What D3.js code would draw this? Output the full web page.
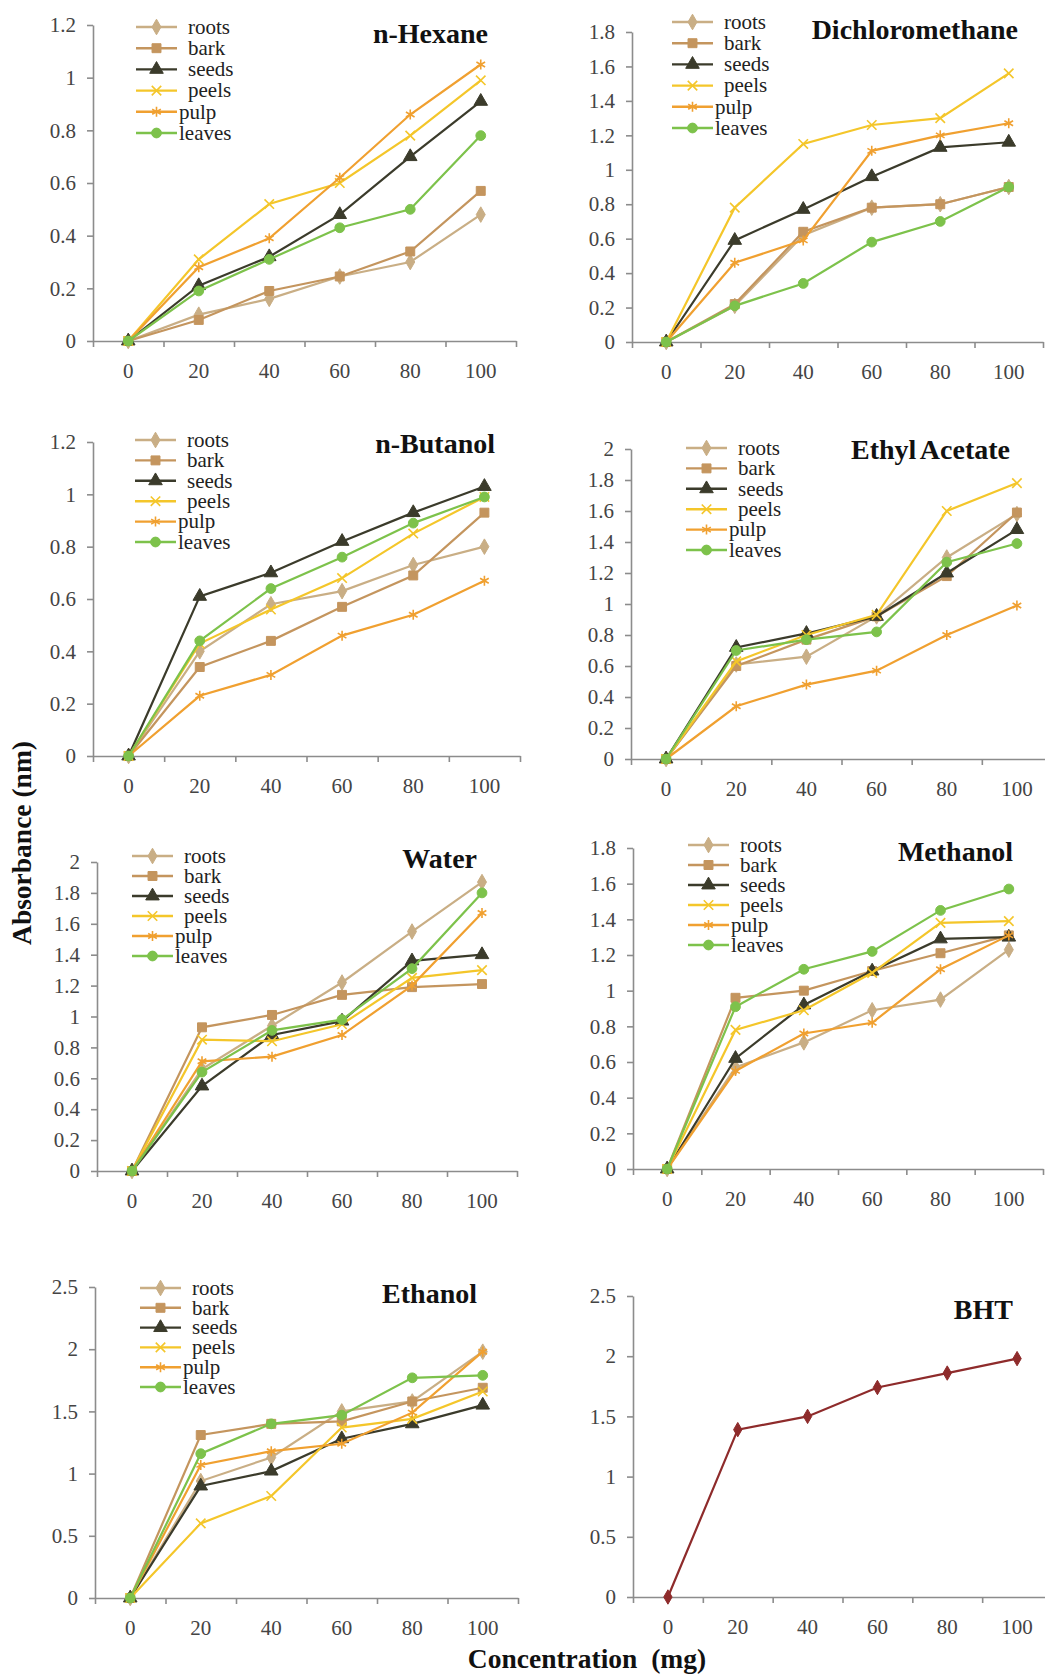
<!DOCTYPE html>
<html>
<head>
<meta charset="utf-8">
<script src="https://cdn.jsdelivr.net/npm/d3@7"></script>
<style>
  body { margin: 0; background: #fff; }
  svg { display: block; }
</style>
</head>
<body>
<svg id="chart" width="1045" height="1674"></svg>
<script>
// categories and series names
const concentrations = ['0', '20', '40', '60', '80', '100'];
const parts = ['roots', 'bark', 'seeds', 'peels', 'pulp', 'leaves'];

// one row per part, in the order of `parts`
const hexane = [
  [0, 0.10, 0.16, 0.245, 0.30, 0.48],
  [0, 0.08, 0.19, 0.245, 0.34, 0.57],
  [0, 0.21, 0.32, 0.48, 0.70, 0.91],
  [0, 0.31, 0.52, 0.60, 0.78, 0.99],
  [0, 0.28, 0.39, 0.62, 0.86, 1.05],
  [0, 0.19, 0.31, 0.43, 0.50, 0.78],
];
const dichloromethane = [
  [0, 0.21, 0.62, 0.78, 0.80, 0.90],
  [0, 0.22, 0.64, 0.78, 0.80, 0.90],
  [0, 0.59, 0.77, 0.96, 1.13, 1.16],
  [0, 0.78, 1.15, 1.26, 1.30, 1.56],
  [0, 0.46, 0.59, 1.11, 1.20, 1.27],
  [0, 0.21, 0.34, 0.58, 0.70, 0.90],
];
const butanol = [
  [0, 0.40, 0.58, 0.63, 0.73, 0.80],
  [0, 0.34, 0.44, 0.57, 0.69, 0.93],
  [0, 0.61, 0.70, 0.82, 0.93, 1.03],
  [0, 0.43, 0.56, 0.68, 0.85, 0.99],
  [0, 0.23, 0.31, 0.46, 0.54, 0.67],
  [0, 0.44, 0.64, 0.76, 0.89, 0.99],
];
const ethylAcetate = [
  [0, 0.61, 0.66, 0.92, 1.30, 1.58],
  [0, 0.60, 0.77, 0.92, 1.18, 1.59],
  [0, 0.72, 0.81, 0.92, 1.20, 1.48],
  [0, 0.63, 0.80, 0.93, 1.60, 1.78],
  [0, 0.34, 0.48, 0.57, 0.80, 0.99],
  [0, 0.70, 0.77, 0.82, 1.27, 1.39],
];
const water = [
  [0, 0.66, 0.94, 1.22, 1.55, 1.87],
  [0, 0.93, 1.01, 1.14, 1.19, 1.21],
  [0, 0.55, 0.88, 0.97, 1.36, 1.40],
  [0, 0.85, 0.84, 0.95, 1.25, 1.30],
  [0, 0.71, 0.74, 0.88, 1.20, 1.67],
  [0, 0.64, 0.91, 0.98, 1.31, 1.80],
];
const methanol = [
  [0, 0.57, 0.71, 0.89, 0.95, 1.23],
  [0, 0.96, 1.00, 1.11, 1.21, 1.31],
  [0, 0.62, 0.92, 1.11, 1.29, 1.30],
  [0, 0.78, 0.89, 1.10, 1.38, 1.39],
  [0, 0.55, 0.76, 0.82, 1.12, 1.31],
  [0, 0.91, 1.12, 1.22, 1.45, 1.57],
];
const ethanol = [
  [0, 0.94, 1.13, 1.50, 1.58, 1.98],
  [0, 1.31, 1.40, 1.42, 1.58, 1.69],
  [0, 0.90, 1.02, 1.28, 1.40, 1.55],
  [0, 0.60, 0.82, 1.37, 1.44, 1.66],
  [0, 1.07, 1.18, 1.24, 1.49, 1.98],
  [0, 1.16, 1.40, 1.47, 1.77, 1.79],
];
const bht = [[0, 1.39, 1.50, 1.74, 1.86, 1.98]];

const partColors = ['#c9ae85', '#c4955e', '#3b3b2b', '#f4c62a', '#f0a030', '#7dc24b'];
const partSymbols = [d3.symbolDiamond, d3.symbolSquare, d3.symbolTriangle, d3.symbolX, d3.symbolAsterisk, d3.symbolCircle];
const partSizes = [70, 80, 80, 60, 70, 75];
const strokeSymbols = [false, false, false, true, true, false];
const serif = "'Liberation Serif', 'Times New Roman', serif";

const panels = [
  { title: 'n-Hexane', rows: hexane, max: 1.2, step: 0.2, x0: 93, x1: 516, y0: 341, y1: 25, titleX: 488, titleY: 43, legendX: 136, legendY: 27, legendGap: 21.2 },
  { title: 'Dichloromethane', rows: dichloromethane, max: 1.8, step: 0.2, x0: 632, x1: 1043, y0: 342, y1: 32, titleX: 1018, titleY: 39, legendX: 672, legendY: 22, legendGap: 21.2 },
  { title: 'n-Butanol', rows: butanol, max: 1.2, step: 0.2, x0: 93, x1: 520, y0: 756, y1: 442, titleX: 495, titleY: 453, legendX: 135, legendY: 440, legendGap: 20.4 },
  { title: 'Ethyl Acetate', rows: ethylAcetate, max: 2, step: 0.2, x0: 631, x1: 1052, y0: 759, y1: 449, titleX: 1010, titleY: 459, legendX: 686, legendY: 448, legendGap: 20.4 },
  { title: 'Water', rows: water, max: 2, step: 0.2, x0: 97, x1: 517, y0: 1171, y1: 862, titleX: 477, titleY: 868, legendX: 132, legendY: 856, legendGap: 20 },
  { title: 'Methanol', rows: methanol, max: 1.8, step: 0.2, x0: 633, x1: 1043, y0: 1169, y1: 848, titleX: 1013, titleY: 861, legendX: 688, legendY: 845, legendGap: 20 },
  { title: 'Ethanol', rows: ethanol, max: 2.5, step: 0.5, x0: 95, x1: 518, y0: 1598, y1: 1287, titleX: 477, titleY: 1303, legendX: 140, legendY: 1288, legendGap: 19.8 },
  { title: 'BHT', rows: bht, max: 2.5, step: 0.5, x0: 633, x1: 1052, y0: 1597, y1: 1296, titleX: 1013, titleY: 1319, legend: false },
];

const svg = d3.select('#chart');
svg.append('rect').attr('width', 1045).attr('height', 1674).attr('fill', '#fff');

const drawPanel = (p) => {
  const g = svg.append('g');
  const xScale = d3.scaleBand().domain(concentrations).range([p.x0, p.x1]);
  const edgeScale = d3.scaleLinear().domain([0, concentrations.length]).range([p.x0, p.x1]);
  const yScale = d3.scaleLinear().domain([0, p.max]).range([p.y0, p.y1]);
  const xPos = (i) => xScale(concentrations[i]) + xScale.bandwidth() / 2;

  // y axis
  const yTicks = d3.range(0, p.max + p.step / 2, p.step);
  const yAxis = d3.axisLeft(yScale)
    .tickValues(yTicks)
    .tickFormat(d => `${+d.toFixed(1)}`)
    .tickSize(6)
    .tickSizeOuter(0)
    .tickPadding(11);
  g.append('g').attr('transform', `translate(${p.x0},0)`).call(yAxis);

  // x axis: tick marks at band edges, labels at band centres
  g.append('g').attr('transform', `translate(0,${p.y0})`)
    .call(d3.axisBottom(edgeScale).ticks(concentrations.length).tickFormat('').tickSize(6).tickSizeOuter(0));
  const xLabels = g.append('g').attr('transform', `translate(0,${p.y0})`)
    .call(d3.axisBottom(xScale).tickSize(0).tickPadding(22));
  xLabels.select('.domain').remove();

  g.selectAll('.tick text')
    .style('font-family', serif)
    .style('font-size', '21px')
    .attr('fill', '#444');
  g.selectAll('.domain, .tick line').attr('stroke', '#8c8c8c').attr('stroke-width', 1.6);

  // series lines and markers
  const line = d3.line().x((d, i) => xPos(i)).y(d => yScale(d));
  p.rows.forEach((row, s) => {
    const single = p.rows.length === 1;
    const color = single ? '#8e2b2b' : partColors[s];
    const symbol = single ? d3.symbolDiamond : partSymbols[s];
    const size = single ? 60 : partSizes[s];
    const stroked = single ? false : strokeSymbols[s];
    g.append('path')
      .datum(row)
      .attr('d', line)
      .attr('fill', 'none')
      .attr('stroke', color)
      .attr('stroke-width', 2.2);
    g.selectAll(null)
      .data(row)
      .enter()
      .append('path')
      .attr('transform', (d, i) => `translate(${xPos(i)},${yScale(d)})`)
      .attr('d', d3.symbol().type(symbol).size(size))
      .attr('fill', stroked ? 'none' : color)
      .attr('stroke', color)
      .attr('stroke-width', stroked ? 1.6 : 1);
  });

  // title
  g.append('text')
    .attr('x', p.titleX)
    .attr('y', p.titleY)
    .attr('text-anchor', 'end')
    .style('font-family', serif)
    .style('font-weight', 'bold')
    .style('font-size', '28px')
    .style('word-spacing', p.title === 'Ethyl Acetate' ? '-2px' : null)
    .attr('fill', '#111')
    .text(p.title);

  if (p.legend === false) return;
  const legend = g.append('g').attr('transform', `translate(${p.legendX},${p.legendY})`);
  parts.forEach((name, s) => {
    const item = legend.append('g').attr('transform', `translate(0,${s * p.legendGap})`);
    item.append('line')
      .attr('x1', 0).attr('x2', 41)
      .attr('stroke', partColors[s])
      .attr('stroke-width', 2.4);
    item.append('path')
      .attr('transform', 'translate(20.5,0)')
      .attr('d', d3.symbol().type(partSymbols[s]).size(partSizes[s]))
      .attr('fill', strokeSymbols[s] ? 'none' : partColors[s])
      .attr('stroke', partColors[s])
      .attr('stroke-width', strokeSymbols[s] ? 1.6 : 1);
    item.append('text')
      .attr('x', s < 4 ? 52 : 43)
      .attr('y', 0)
      .attr('dy', '0.32em')
      .style('font-family', serif)
      .style('font-size', '21px')
      .attr('fill', '#222')
      .text(name);
  });
};

panels.forEach(drawPanel);

// shared axis titles
svg.append('text')
  .attr('transform', 'translate(31,843) rotate(-90)')
  .attr('text-anchor', 'middle')
  .style('font-family', serif)
  .style('font-weight', 'bold')
  .style('font-size', '27.5px')
  .attr('fill', '#111')
  .text('Absorbance (nm)');

svg.append('text')
  .attr('x', 587)
  .attr('y', 1668)
  .attr('text-anchor', 'middle')
  .style('font-family', serif)
  .style('font-weight', 'bold')
  .style('font-size', '27.5px')
  .style('white-space', 'pre')
  .attr('fill', '#111')
  .text('Concentration  (mg)');
</script>
</body>
</html>
